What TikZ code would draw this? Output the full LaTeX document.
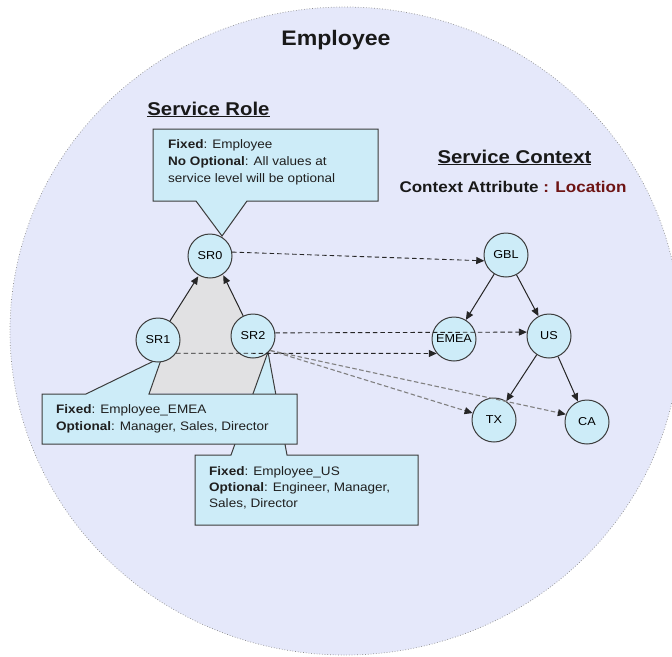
\documentclass[tikz,border=0pt]{standalone}
\usepackage{fontspec}
\setmainfont{Liberation Sans}[FakeStretch=1.1]
\usetikzlibrary{arrows.meta}
\definecolor{bgc}{RGB}{229,232,250}
\definecolor{nodec}{RGB}{205,236,248}
\definecolor{grayc}{RGB}{225,225,227}
\definecolor{edgec}{RGB}{60,60,60}
\definecolor{ctxred}{RGB}{110,20,20}
\pgfdeclarelayer{bg}
\pgfsetlayers{bg,main}
\begin{document}
\begin{tikzpicture}[x=1pt,y=-1pt,
  ctx/.style={circle,draw=edgec,fill=nodec,line width=1pt,minimum size=44pt,inner sep=0pt,font=\fontsize{11.5}{13}\selectfont},
  solidarr/.style={draw=black!85,line width=1pt,-{Triangle[length=8pt,width=7pt]}},
  dasharr/.style={draw=black!85,line width=0.9pt,dash pattern=on 4.5pt off 3pt,-{Triangle[length=8pt,width=7pt]}},
  grayarr/.style={draw=black!50,line width=1.1pt,dash pattern=on 4.5pt off 2.5pt,-{Triangle[length=8pt,width=7pt,color=black!85]}},
  callout/.style={draw=edgec,fill=nodec,line width=1pt,line join=miter},
  boxtext/.style={anchor=base west,inner sep=0pt,font=\fontsize{12.3}{17}\selectfont,text=black!88},
  heading/.style={inner sep=0pt,anchor=base,font=\bfseries\fontsize{18.5}{22}\selectfont,text=black!90}]
\useasboundingbox (0,0) rectangle (672,656);

% context nodes
\node[ctx] (SR0) at (210,256) {SR0};
\node[ctx] (SR1) at (158,340) {SR1};
\node[ctx] (SR2) at (253,336) {SR2};
\node[ctx] (GBL) at (506,255) {GBL};
\node[ctx] (EMEA) at (454,339) {EMEA};
\node[ctx] (US) at (549,336) {US};
\node[ctx] (TX) at (494,420) {TX};
\node[ctx] (CA) at (587,422) {CA};

\begin{pgfonlayer}{bg}
  \fill[white] (0,0) rectangle (672,656);
  \begin{scope}
  \clip (0,0) rectangle (672,656);
  \draw[fill=bgc,draw=black!45,dotted,line width=0.7pt] (345,331) ellipse [x radius=335, y radius=324];
  \end{scope}
  \fill[grayc] (149,393) -- (162,357) -- (SR1.center) -- (SR0.240) -- (SR0.center) -- (SR0.305) -- (SR2.center) -- (268,352) -- (253,393) -- cycle;
  \draw[callout] (195,455) -- (231,455) -- (268,352) -- (287,455) -- (418,455) -- (418,525) -- (195,525) -- cycle;
  \draw[callout] (42,394) -- (86,394) -- (162,357) -- (149,394) -- (297,394) -- (297,444) -- (42,444) -- cycle;
  \draw[callout] (153,129) -- (378,129) -- (378,201) -- (247,201) -- (222,236) -- (196,201) -- (153,201) -- cycle;
\end{pgfonlayer}

% headings
\node[heading,font=\bfseries\fontsize{21}{25}\selectfont] (title) at (336,45) {Employee};
\node[heading] (srole) at (208.5,115) {\underline{Service Role}};
\node[heading] (sctx) at (514.5,163) {\underline{Service Context}};
\node[heading,font=\bfseries\fontsize{15.5}{18}\selectfont] (cattr) at (513,192) {Context Attribute \textcolor{ctxred}{: Location}};

% box texts
\node[boxtext] (t0a) at (168,148) {\textbf{Fixed}: Employee};
\node[boxtext] (t0b) at (168,165) {\textbf{No Optional}: All values at};
\node[boxtext] (t0c) at (168,182) {service level will be optional};
\node[boxtext] (t1a) at (56,413) {\textbf{Fixed}: Employee\_EMEA};
\node[boxtext] (t1b) at (56,430) {\textbf{Optional}: Manager, Sales, Director};
\node[boxtext] (t2a) at (209,475) {\textbf{Fixed}: Employee\_US};
\node[boxtext] (t2b) at (209,491) {\textbf{Optional}: Engineer, Manager,};
\node[boxtext] (t2c) at (209,507) {Sales, Director};

% solid arrows
\draw[solidarr,shorten >=1pt] (SR1) -- (SR0.240);
\draw[solidarr,shorten >=1pt] (SR2) -- (SR0.305);
\draw[solidarr] (GBL) -- (EMEA);
\draw[solidarr] (GBL) -- (US);
\draw[solidarr] (US) -- (TX);
\draw[solidarr] (US) -- (CA);

% dashed arrows
\draw[dasharr] (SR0.10) -- (GBL.195);
\draw[dasharr] (SR2.8) -- (US.170);
\draw[dasharr] (SR1.-36) -- (EMEA.220);
\draw[grayarr] (SR2.-40) -- (TX.162);
\draw[grayarr] (SR2.-40) -- (CA.160);
\end{tikzpicture}
\end{document}
